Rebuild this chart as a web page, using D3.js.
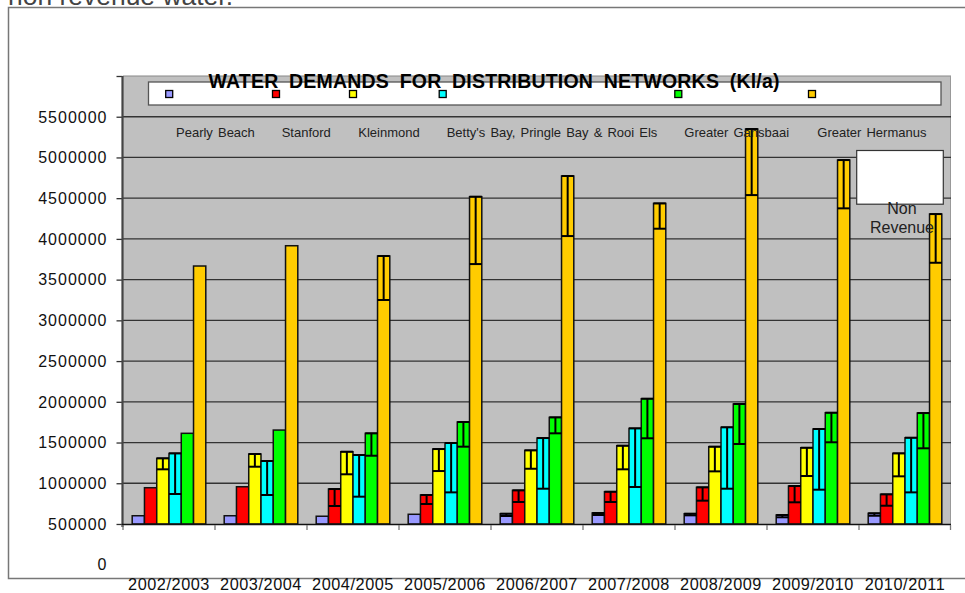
<!DOCTYPE html>
<html>
<head>
<meta charset="utf-8">
<script src="https://cdn.jsdelivr.net/npm/d3@7/dist/d3.min.js"></script>
<style>
  html, body { margin: 0; padding: 0; background: #fff; }
  svg { display: block; font-family: "Liberation Sans", Arial, Helvetica, sans-serif; }
</style>
</head>
<body>
<svg id="chart" width="965" height="593"></svg>
<script>
// ---------- DATA ----------
const years = ["2002/2003", "2003/2004", "2004/2005", "2005/2006", "2006/2007",
               "2007/2008", "2008/2009", "2009/2010", "2010/2011"];
const towns = ["Pearly Beach", "Stanford", "Kleinmond",
               "Betty's Bay, Pringle Bay & Rooi Els", "Greater Gansbaai", "Greater Hermanus"];

// total demand (bar top) and revenue demand (lower end of the non-revenue bar), Kl/a
const pearlyTotal     = [601000, 601000, 595000, 619000, 626000, 635000, 626000, 610000, 631000];
const pearlyRevenue   = [null, null, null, null, 598000, 610000, 606000, 582000, 601000];
const stanfordTotal   = [945000, 957000, 929000, 856000, 913000, 896000, 950000, 966000, 864000];
const stanfordRevenue = [null, null, 721000, 745000, 770000, 770000, 786000, 766000, 724000];
const kleinmondTotal  = [1306000, 1359000, 1387000, 1420000, 1404000, 1461000, 1449000, 1436000, 1367000];
const kleinmondRevenue= [1171000, 1203000, 1110000, 1150000, 1178000, 1171000, 1146000, 1089000, 1085000];
const bettysTotal     = [1367000, 1273000, 1347000, 1494000, 1555000, 1674000, 1687000, 1666000, 1559000];
const bettysRevenue   = [868000, 856000, 835000, 888000, 933000, 954000, 933000, 921000, 888000];
const gansbaaiTotal   = [1613000, 1653000, 1613000, 1752000, 1809000, 2038000, 1973000, 1866000, 1862000];
const gansbaaiRevenue = [null, null, 1338000, 1449000, 1613000, 1552000, 1482000, 1503000, 1429000];
const hermanusTotal   = [3667000, 3916000, 3790000, 4518000, 4772000, 4436000, 5349000, 4968000, 4305000];
const hermanusRevenue = [null, null, 3250000, 3691000, 4035000, 4125000, 4538000, 4375000, 3707000];

const yTickValues = [0, 500000, 1000000, 1500000, 2000000, 2500000, 3000000,
                     3500000, 4000000, 4500000, 5000000, 5500000];
const titleText = "WATER DEMANDS FOR DISTRIBUTION NETWORKS (Kl/a)";
const noteText = ["Non", "Revenue"];
const topText = "non revenue water.";

// ---------- STYLE / LAYOUT ----------
const colors = ["#9999FF", "#FF0000", "#FFFF00", "#00FFFF", "#00FF00", "#FFCC00"];
const legendMarkerX = [169.2, 276, 353, 442.7, 678.3, 812];
const legendLabelX = [176, 281.7, 358.3, 446.7, 684.3, 817.3];

const totals = [pearlyTotal, stanfordTotal, kleinmondTotal, bettysTotal, gansbaaiTotal, hermanusTotal];
const revenues = [pearlyRevenue, stanfordRevenue, kleinmondRevenue, bettysRevenue, gansbaaiRevenue, hermanusRevenue];

const rows = [];
years.forEach((yr, i) => {
  towns.forEach((t, s) => {
    rows.push({ year: yr, s: s, total: totals[s][i], rev: revenues[s][i] });
  });
});

const svg = d3.select("#chart");
const plotL = 123, plotR = 951;

const y = d3.scaleLinear().domain([0, 6000000]).range([564.7, 76]);
const plotTop = y(6000000), plotBottom = y(500000);

const x = d3.scaleBand().domain(years).range([plotL, plotR]).paddingInner(0.2).paddingOuter(0.1);
const xs = d3.scaleBand().domain(d3.range(towns.length)).range([0, x.bandwidth()]).padding(0);

// top cut-off text
svg.append("text").attr("x", 8).attr("y", 4.5)
  .attr("font-size", 25).attr("fill", "#444")
  .attr("textLength", 225).attr("lengthAdjust", "spacingAndGlyphs")
  .text(topText);

// outer chart frame
svg.append("path")
  .attr("d", `M965,7.5 H8.5 V578.5 H965`)
  .attr("fill", "none").attr("stroke", "#777").attr("stroke-width", 1.5);

// plot area
svg.append("rect")
  .attr("x", plotL).attr("y", plotTop)
  .attr("width", plotR - plotL).attr("height", plotBottom - plotTop)
  .attr("fill", "#C0C0C0");
svg.append("line").attr("x1", plotL).attr("x2", plotR).attr("y1", plotTop).attr("y2", plotTop)
  .attr("stroke", "#888").attr("stroke-width", 1.2);
svg.append("line").attr("x1", plotR - 0.5).attr("x2", plotR - 0.5).attr("y1", plotTop).attr("y2", plotBottom)
  .attr("stroke", "#999").attr("stroke-width", 1);

// gridlines
const gridVals = yTickValues.filter(v => v > 500000);
svg.append("g").selectAll("line").data(gridVals).join("line")
  .attr("x1", plotL).attr("x2", plotR)
  .attr("y1", d => y(d)).attr("y2", d => y(d))
  .attr("stroke", "#333").attr("stroke-width", 1.3);

// y axis
const yAxis = d3.axisLeft(y).tickValues(yTickValues.concat([6000000]))
  .tickSize(6).tickFormat(d => d === 6000000 ? "" : d3.format("d")(d));
const gy = svg.append("g").attr("transform", `translate(${plotL - 0.5},0)`).call(yAxis);
gy.select(".domain").remove();
gy.selectAll(".tick line").attr("stroke", "#333").attr("stroke-width", 1.3)
  .attr("display", d => d === 0 ? "none" : null);
gy.selectAll(".tick text")
  .attr("x", -15).attr("dy", "0.33em")
  .attr("font-size", 16).attr("letter-spacing", 1).attr("fill", "#111")
  .attr("font-family", "'Liberation Sans', Arial, sans-serif");
svg.append("line").attr("x1", plotL - 0.5).attr("x2", plotL - 0.5)
  .attr("y1", plotTop).attr("y2", plotBottom + 3)
  .attr("stroke", "#444").attr("stroke-width", 2.2);

// bars
const gBars = svg.append("g");
const bw = xs.bandwidth();
gBars.selectAll("rect").data(rows).join("rect")
  .attr("x", d => x(d.year) + xs(d.s))
  .attr("y", d => y(d.total))
  .attr("width", bw)
  .attr("height", d => plotBottom - y(d.total))
  .attr("fill", d => colors[d.s])
  .attr("stroke", "#111").attr("stroke-width", 1.5);

// non-revenue indicators (error-bar style)
const errRows = rows.filter(d => d.rev != null);
const gErr = svg.append("g").attr("stroke", "#000").attr("stroke-width", 2);
gErr.selectAll("line.v").data(errRows).join("line").attr("class", "v")
  .attr("x1", d => x(d.year) + xs(d.s) + bw / 2).attr("x2", d => x(d.year) + xs(d.s) + bw / 2)
  .attr("y1", d => y(d.total)).attr("y2", d => y(d.rev));
gErr.selectAll("line.lo").data(errRows).join("line").attr("class", "lo")
  .attr("x1", d => x(d.year) + xs(d.s)).attr("x2", d => x(d.year) + xs(d.s) + bw)
  .attr("y1", d => y(d.rev)).attr("y2", d => y(d.rev));
gErr.selectAll("line.hi").data(errRows).join("line").attr("class", "hi")
  .attr("x1", d => x(d.year) + xs(d.s)).attr("x2", d => x(d.year) + xs(d.s) + bw)
  .attr("y1", d => y(d.total)).attr("y2", d => y(d.total));

// x axis
svg.append("line").attr("x1", plotL - 1).attr("x2", plotR).attr("y1", plotBottom + 0.5).attr("y2", plotBottom + 0.5)
  .attr("stroke", "#111").attr("stroke-width", 1.5);
svg.append("g").selectAll("line").data(years.concat(["end"])).join("line")
  .attr("x1", (d, i) => i < years.length ? x(d) - x.step() * x.paddingOuter() : plotR - 0.5)
  .attr("x2", (d, i) => i < years.length ? x(d) - x.step() * x.paddingOuter() : plotR - 0.5)
  .attr("y1", plotBottom + 1).attr("y2", plotBottom + 6)
  .attr("stroke", "#777").attr("stroke-width", 1.3);
svg.append("g").selectAll("text").data(years).join("text")
  .attr("x", d => x(d) + x.bandwidth() / 2)
  .attr("y", 589.5)
  .attr("text-anchor", "middle")
  .attr("font-size", 16.3).attr("letter-spacing", 0.55).attr("fill", "#111")
  .text(d => d);

// legend box
svg.append("rect").attr("x", 148.5).attr("y", 82).attr("width", 792.5).attr("height", 23)
  .attr("fill", "#fff").attr("stroke", "#555").attr("stroke-width", 1.3);
svg.append("g").selectAll("rect").data(towns).join("rect")
  .attr("x", (d, i) => legendMarkerX[i] - 3.5).attr("y", 90.5)
  .attr("width", 7).attr("height", 7)
  .attr("fill", (d, i) => colors[i]).attr("stroke", "#000").attr("stroke-width", 1.3);

// title
svg.append("text").attr("x", 208.5).attr("y", 88)
  .attr("font-size", 19.5).attr("font-weight", "bold").attr("fill", "#000")
  .attr("word-spacing", 5).attr("letter-spacing", 0.2)
  .text(titleText);

// series names (displaced legend labels)
svg.append("g").selectAll("text").data(towns).join("text")
  .attr("x", (d, i) => legendLabelX[i]).attr("y", 136.5)
  .attr("font-size", 13).attr("word-spacing", 1.5).attr("fill", "#222")
  .text(d => d);

// "Non Revenue" note box
svg.append("rect").attr("x", 856.7).attr("y", 150.5).attr("width", 86.6).attr("height", 53.7)
  .attr("fill", "#fff").attr("stroke", "#333").attr("stroke-width", 1.2);
svg.append("g").selectAll("text").data(noteText).join("text")
  .attr("x", 902).attr("y", (d, i) => 213.5 + i * 19)
  .attr("text-anchor", "middle").attr("font-size", 16).attr("fill", "#222")
  .text(d => d);
</script>
</body>
</html>
